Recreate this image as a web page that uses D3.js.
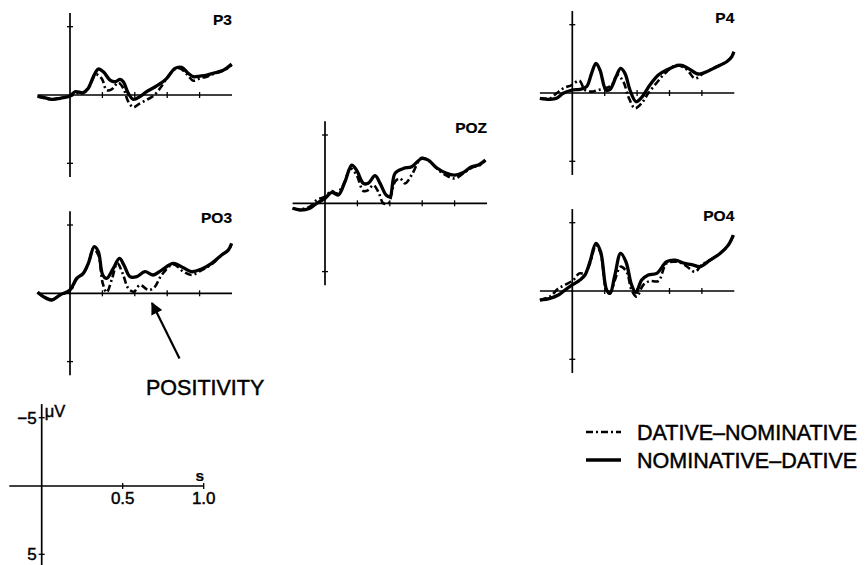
<!DOCTYPE html>
<html><head><meta charset="utf-8">
<script src="https://cdn.jsdelivr.net/npm/d3@7"></script>
<style>body{margin:0;background:#fff}svg{display:block}</style>
</head><body>
<svg id="c" width="867" height="565"></svg>
<script>
// ---- data: [time (s), amplitude (µV, negative plotted up)] ----
const channels = ["P3", "POZ", "P4", "PO3", "PO4"];
const seriesNames = ["DATIVE–NOMINATIVE", "NOMINATIVE–DATIVE"];
const xTicks = [0.2, 0.4, 0.6, 0.8];
const yTicks = [-5, 5];
const scaleXTicks = [0.5, 1.0];
const scaleXLabels = ["0.5", "1.0"];
const scaleYLabels = ["−5", "5"];

const p3Solid = [[-0.2,0.1],[-0.165,0.17],[-0.113,0.32],[-0.062,0.24],[0,0.07],[0.031,-0.24],[0.082,-0.17],[0.113,-0.49],[0.144,-1.34],[0.175,-1.9],[0.206,-1.7],[0.247,-1.09],[0.278,-0.97],[0.309,-1.14],[0.329,-0.97],[0.36,-0.12],[0.391,0.32],[0.432,0.12],[0.473,-0.24],[0.535,-0.66],[0.597,-1.22],[0.648,-1.95],[0.689,-2.02],[0.73,-1.58],[0.761,-1.34],[0.802,-1.39],[0.844,-1.46],[0.895,-1.63],[0.947,-1.82],[0.998,-2.26]];
const p3Dashed = [[-0.2,0.1],[-0.113,0.32],[-0.05,0.2],[0,0.1],[0.041,-0.12],[0.082,-0.17],[0.123,-0.73],[0.16,-1.51],[0.195,-1.22],[0.226,-0.36],[0.257,-0.41],[0.298,-0.9],[0.329,-0.49],[0.36,0.49],[0.391,0.9],[0.432,0.61],[0.473,0.36],[0.514,0.07],[0.556,-0.49],[0.597,-1.22],[0.638,-1.82],[0.679,-1.95],[0.72,-1.53],[0.761,-1.05],[0.802,-1.22],[0.844,-1.34],[0.895,-1.58],[0.947,-1.78],[0.998,-2.19]];

const pozSolid = [[-0.2,0.36],[-0.154,0.49],[-0.093,0.36],[-0.051,0],[0,-0.36],[0.041,-0.8],[0.082,-0.61],[0.123,-1.58],[0.165,-2.8],[0.195,-2.43],[0.237,-1.46],[0.267,-1.46],[0.309,-2.02],[0.34,-1.46],[0.377,-0.61],[0.401,-0.49],[0.432,-2.19],[0.484,-2.55],[0.535,-2.68],[0.597,-3.28],[0.638,-3.16],[0.689,-2.6],[0.751,-2.19],[0.802,-2.07],[0.854,-2.26],[0.905,-2.68],[0.947,-2.8],[0.99,-3.16]];
const pozDashed = [[-0.2,0.36],[-0.154,0.43],[-0.093,0.24],[-0.051,-0.24],[0,-0.49],[0.041,-0.9],[0.072,-0.73],[0.113,-1.34],[0.158,-2.55],[0.195,-2.07],[0.237,-0.9],[0.267,-0.97],[0.298,-1.34],[0.329,-0.85],[0.36,0],[0.391,0],[0.432,-1.58],[0.463,-1.82],[0.494,-1.46],[0.535,-2.07],[0.597,-3.33],[0.648,-3.04],[0.7,-2.43],[0.751,-2.02],[0.802,-1.82],[0.854,-2.19],[0.905,-2.6],[0.957,-2.8],[0.99,-3.16]];

const p4Solid = [[-0.2,0.39],[-0.138,0.46],[-0.097,0.39],[-0.056,0.02],[0,-0.22],[0.047,-0.27],[0.088,-0.46],[0.119,-1.44],[0.146,-2.17],[0.171,-1.68],[0.208,-0.22],[0.233,-0.27],[0.27,-1.19],[0.298,-1.8],[0.325,-1.44],[0.356,-0.22],[0.393,0.63],[0.428,0.32],[0.479,-0.58],[0.531,-1.31],[0.582,-1.68],[0.665,-2.04],[0.716,-1.8],[0.778,-1.39],[0.829,-1.56],[0.891,-1.92],[0.953,-2.29],[0.984,-2.65],[0.997,-3.02]];
const p4Dashed = [[-0.2,0.39],[-0.138,0.39],[-0.097,0.02],[-0.056,-0.34],[-0.004,-0.58],[0.043,-0.9],[0.078,-0.22],[0.119,-0.1],[0.16,-0.22],[0.202,-0.34],[0.243,-0.58],[0.278,-1.31],[0.315,-0.83],[0.346,0.27],[0.387,1.12],[0.428,0.75],[0.469,0.02],[0.521,-0.75],[0.572,-1.44],[0.644,-2.04],[0.706,-1.73],[0.757,-1.07],[0.809,-1.44],[0.881,-1.87],[0.953,-2.29],[0.984,-2.65],[0.997,-3.02]];

const po3Solid = [[-0.2,-0.07],[-0.165,0.24],[-0.113,0.49],[-0.062,0.12],[0,-0.24],[0.041,-1.09],[0.082,-1.46],[0.113,-2.19],[0.15,-3.41],[0.175,-3.04],[0.202,-1.34],[0.226,-1.09],[0.267,-1.82],[0.305,-2.55],[0.333,-2.07],[0.37,-1.22],[0.412,-1.22],[0.463,-1.58],[0.514,-1.34],[0.566,-1.7],[0.638,-2.19],[0.7,-1.87],[0.751,-1.58],[0.813,-1.78],[0.874,-2.19],[0.936,-2.8],[0.977,-3.16],[0.998,-3.65]];
const po3Dashed = [[-0.2,-0.07],[-0.165,0.24],[-0.113,0.49],[-0.062,0.12],[0,-0.17],[0.041,-1.04],[0.082,-1.46],[0.113,-2.12],[0.144,-3.28],[0.175,-2.8],[0.202,-0.73],[0.226,-0.07],[0.257,-0.97],[0.292,-2.19],[0.325,-1.46],[0.36,-0.36],[0.395,-0.12],[0.432,-0.61],[0.484,-0.24],[0.519,-0.41],[0.566,-1.34],[0.638,-2.12],[0.7,-1.58],[0.751,-1.34],[0.813,-1.7],[0.874,-2.12],[0.936,-2.8],[0.977,-3.16],[0.998,-3.65]];

const po4Solid = [[-0.2,0.66],[-0.138,0.54],[-0.086,0.29],[-0.045,-0.07],[0,-0.44],[0.047,-0.8],[0.078,-1.17],[0.109,-2.14],[0.146,-3.48],[0.175,-2.87],[0.212,-0.07],[0.233,0.17],[0.263,-1.17],[0.298,-2.75],[0.331,-2.14],[0.366,-0.44],[0.393,0.1],[0.428,-0.8],[0.469,-1.17],[0.521,-1.29],[0.582,-2.14],[0.634,-2.26],[0.695,-2.02],[0.747,-1.9],[0.788,-1.78],[0.85,-2.26],[0.912,-2.75],[0.963,-3.36],[0.994,-4.09]];
const po4Dashed = [[-0.2,0.66],[-0.138,0.41],[-0.086,-0.19],[-0.045,-0.44],[0.006,-0.8],[0.043,-1.29],[0.078,-1.29],[0.109,-2.02],[0.146,-3.36],[0.175,-2.75],[0.212,0],[0.233,0.17],[0.263,-0.8],[0.298,-1.78],[0.335,-1.41],[0.366,-0.07],[0.397,0.41],[0.438,-0.44],[0.479,-0.73],[0.531,-0.73],[0.582,-2.02],[0.644,-2.14],[0.695,-1.9],[0.757,-1.41],[0.798,-1.9],[0.85,-2.26],[0.912,-2.75],[0.963,-3.36],[0.994,-4.09]];

const solidData = [p3Solid, pozSolid, p4Solid, po3Solid, po4Solid];
const dashedData = [p3Dashed, pozDashed, p4Dashed, po3Dashed, po4Dashed];

// ---- layout ----
const origins = [[70, 95], [325, 203.3], [572.3, 93], [70, 293.3], [572.3, 291]];
const PX_PER_S = 162, PX_PER_UV = 13.66;
const FONT = "'Liberation Sans', Arial, Helvetica, sans-serif";
const DASH = "7,3,2,3";

const svg = d3.select("#c");

function makeScales(ox, oy) {
  const x = d3.scaleLinear().domain([-0.2, 1.0]).range([ox - 0.2 * PX_PER_S, ox + PX_PER_S]);
  const y = d3.scaleLinear().domain([-6, 6]).range([oy - 6 * PX_PER_UV, oy + 6 * PX_PER_UV]);
  return {x, y};
}

function drawAxes(g, x, y, xt, yt) {
  g.append("line").attr("x1", x(-0.2)).attr("x2", x(1.0)).attr("y1", y(0)).attr("y2", y(0))
    .attr("stroke", "#000").attr("stroke-width", 1.7);
  g.append("line").attr("x1", x(0)).attr("x2", x(0)).attr("y1", y(-6)).attr("y2", y(6))
    .attr("stroke", "#000").attr("stroke-width", 1.7);
  g.selectAll(".xt").data(xt).join("line")
    .attr("x1", d => x(d)).attr("x2", d => x(d)).attr("y1", y(0) - 3).attr("y2", y(0) + 3)
    .attr("stroke", "#000").attr("stroke-width", 1.3);
  g.selectAll(".yt").data(yt).join("line")
    .attr("x1", x(0) - 3).attr("x2", x(0) + 3).attr("y1", d => y(d)).attr("y2", d => y(d))
    .attr("stroke", "#000").attr("stroke-width", 1.3);
}

function txt(sel) {
  return sel.attr("font-family", FONT).attr("fill", "#000").attr("stroke", "#000").attr("stroke-width", 0.45);
}

channels.forEach((name, i) => {
  const [ox, oy] = origins[i];
  const {x, y} = makeScales(ox, oy);
  const g = svg.append("g");
  drawAxes(g, x, y, xTicks, yTicks);
  const line = d3.line().x(d => x(d[0])).y(d => y(d[1])).curve(d3.curveCatmullRom.alpha(0.5));
  g.append("path").attr("d", line(dashedData[i])).attr("fill", "none")
    .attr("stroke", "#000").attr("stroke-width", 2.6).attr("stroke-dasharray", DASH);
  g.append("path").attr("d", line(solidData[i])).attr("fill", "none")
    .attr("stroke", "#000").attr("stroke-width", 3.3).attr("stroke-linejoin", "round");
  txt(g.append("text")).attr("x", x(1.0)).attr("y", oy - 70).attr("text-anchor", "end")
    .attr("font-weight", "bold").attr("font-size", 15.5).attr("stroke-width", 0.2).text(name);
});

// ---- scale key ----
{
  const {x, y} = makeScales(41.7, 486);
  const g = svg.append("g");
  drawAxes(g, x, y, scaleXTicks, yTicks);
  txt(g.selectAll(".yl").data(yTicks).join("text"))
    .attr("x", x(0) - 5).attr("y", d => y(d) + 6).attr("text-anchor", "end")
    .attr("font-size", 17).text((d, i) => scaleYLabels[i]);
  txt(g.append("text")).attr("x", x(0) + 3).attr("y", y(-5) - 0.5)
    .attr("font-size", 16.5).text("μV");
  txt(g.selectAll(".xl").data(scaleXTicks).join("text"))
    .attr("x", d => x(d)).attr("y", y(0) + 18).attr("text-anchor", "middle")
    .attr("font-size", 17).text((d, i) => scaleXLabels[i]);
  txt(g.append("text")).attr("x", x(1.0) - 4).attr("y", y(0) - 5).attr("text-anchor", "middle")
    .attr("font-weight", "bold").attr("font-size", 15.5).attr("stroke-width", 0.2).text("s");
}

// ---- annotation ----
svg.append("defs").append("marker").attr("id", "ah").attr("viewBox", "0 0 10 10")
  .attr("refX", 9).attr("refY", 5).attr("markerWidth", 7).attr("markerHeight", 5.5)
  .attr("markerUnits", "strokeWidth").attr("orient", "auto")
  .append("path").attr("d", "M0,0 L10,5 L0,10 z").attr("fill", "#000");
svg.append("line").attr("x1", 179.5).attr("y1", 358.5).attr("x2", 152).attr("y2", 303)
  .attr("stroke", "#000").attr("stroke-width", 2.2).attr("marker-end", "url(#ah)");
txt(svg.append("text")).attr("x", 146).attr("y", 394.5)
  .attr("font-size", 21.5).text("POSITIVITY");

// ---- legend ----
const legY = [432, 460];
const leg = svg.append("g");
leg.selectAll("line").data(seriesNames).join("line")
  .attr("x1", 586).attr("x2", 621).attr("y1", (d, i) => legY[i]).attr("y2", (d, i) => legY[i])
  .attr("stroke", "#000").attr("stroke-width", (d, i) => i === 0 ? 2.6 : 3.3)
  .attr("stroke-dasharray", (d, i) => i === 0 ? DASH : null);
txt(leg.selectAll("text").data(seriesNames).join("text"))
  .attr("x", 637).attr("y", (d, i) => legY[i] + 7.8)
  .attr("font-size", 21.5).text(d => d);
</script>
</body></html>
